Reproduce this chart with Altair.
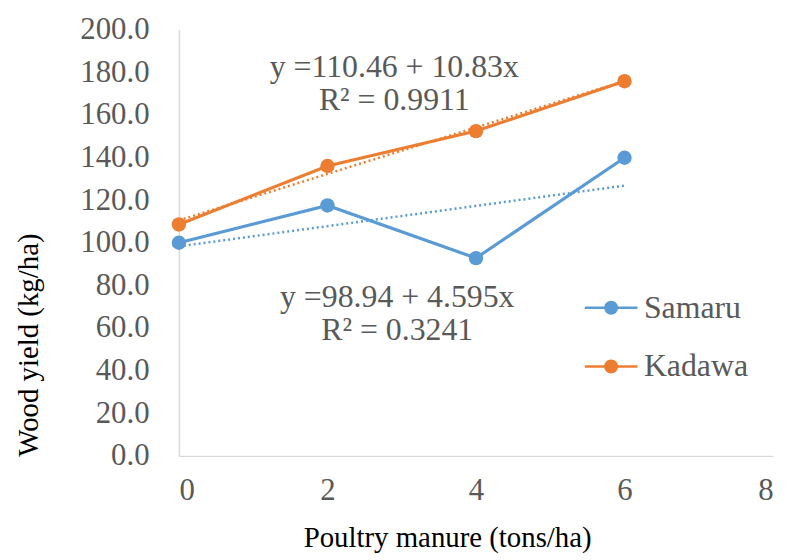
import altair as alt
import pandas as pd

manure = [0, 2, 4, 6]
samaru = [100.0, 117.5, 92.8, 139.9]
kadawa = [108.6, 136.0, 152.4, 175.8]
series_names = ["Samaru", "Kadawa"]
colors = ["#5B9BD5", "#ED7D31"]

eq_text = [["y =110.46 + 10.83x", "R\u00b2 = 0.9911"], ["y =98.94 + 4.595x", "R\u00b2 = 0.3241"]]
eq_x = [2.90, 2.94]
eq_y = [182.5, 74.6]

rows = []
for name, vals in zip(series_names, [samaru, kadawa]):
    for xv, yv in zip(manure, vals):
        rows.append({"x": xv, "y": yv, "series": name})
df = pd.DataFrame(rows)
ann = pd.DataFrame({"x": eq_x, "y": eq_y, "label": [t[0] + "\n" + t[1] for t in eq_text]})

FONT = "'Liberation Serif', 'Times New Roman', Times, 'DejaVu Serif', serif"
GRAY = "#595959"

xs = alt.Scale(domain=[0, 8])
ys = alt.Scale(domain=[0, 200])
cs = alt.Scale(domain=series_names, range=colors)

X = alt.X("x:Q", scale=xs, axis=alt.Axis(values=[0, 2, 4, 6, 8], format="d", title="Poultry manure (tons/ha)",
          grid=False, ticks=False, domainColor="#D9D9D9", domainWidth=1.5, labelPadding=20,
          labelFontSize=31, labelColor=GRAY, labelFont=FONT, titleFont=FONT, titleFontSize=29,
          titleColor="black", titleFontWeight="normal", titleX=270, titleY=82, titleBaseline="middle"))
Y = alt.Y("y:Q", scale=ys, axis=alt.Axis(values=list(range(0, 201, 20)), format=".1f",
          title="Wood yield (kg/ha)", grid=False, ticks=False, domainColor="#D9D9D9", domainWidth=1.5,
          labelPadding=30, labelFontSize=31, labelColor=GRAY, labelFont=FONT, titleFont=FONT,
          titleFontSize=29, titleColor="black", titleFontWeight="normal", titleX=-151, titleY=317,
          titleBaseline="middle"))

legend = alt.Legend(title=None, orient="none", legendX=407, legendY=252,
                    symbolType="M -1 0 L 1 0 M -0.22 0 A 0.22 0.22 0 1 1 0.22 0 A 0.22 0.22 0 1 1 -0.22 0 Z",
                    symbolSize=2809, symbolStrokeWidth=2.5, labelFontSize=32, labelFont=FONT,
                    labelColor=GRAY, labelOffset=5, rowPadding=15, padding=0)

base = alt.Chart(df)

trend = base.transform_regression("x", "y", groupby=["series"], extent=[0, 6]).mark_line(
    strokeDash=[2, 3], strokeWidth=2.5
).encode(x=X, y=Y, stroke=alt.Stroke("series:N", scale=cs, legend=legend))

line = base.mark_line(strokeWidth=3.2).encode(
    x=X, y=Y, stroke=alt.Stroke("series:N", scale=cs, legend=legend)
)
pts = base.mark_point(filled=True, size=210, opacity=1).encode(
    x=X, y=Y, fill=alt.Fill("series:N", scale=cs, legend=legend)
)

text = alt.Chart(ann).mark_text(font=FONT, fontSize=32, color=GRAY, lineBreak="\n",
                                lineHeight=33, align="center", baseline="middle").encode(
    x=X, y=Y, text="label:N"
)

chart = alt.layer(trend, line, pts, text).properties(
    width=598, height=429,
    autosize=alt.AutoSizeParams(type="none"),
    padding={"left": 172, "top": 20, "right": 10, "bottom": 100},
).configure_view(stroke=None)

chart.save("out.html", embed_options={"renderer": "svg", "actions": False})
